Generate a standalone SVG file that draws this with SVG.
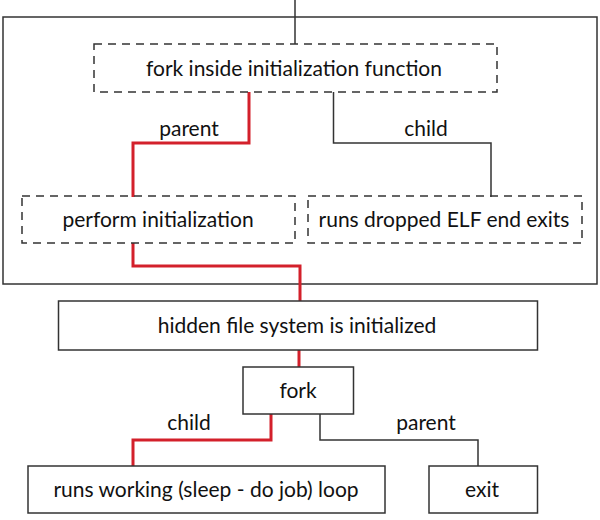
<svg xmlns="http://www.w3.org/2000/svg" width="600" height="520" viewBox="0 0 600 520">
<style>
.t{font-family:Lato,"Open Sans","Liberation Sans",sans-serif;font-size:21px;fill:#111;text-anchor:middle}
.box{fill:#fff;stroke:#333;stroke-width:1.5}
.dash{fill:none;stroke:#333;stroke-width:1.5;stroke-dasharray:8 6}
.red{fill:none;stroke:#d3202b;stroke-width:3}
.blk{fill:none;stroke:#333;stroke-width:1.5}
</style>
<rect width="600" height="520" fill="#fff"/>
<g id="outer"><rect x="3" y="17" width="594" height="267" class="box"/></g>
<g id="connectors">
<line x1="295" y1="0" x2="295" y2="44" class="blk"/>
<polyline points="249,92 249,143 133,143 133,197" class="red"/>
<polyline points="333.5,92 333.5,143 491,143 491,197" class="blk"/>
<polyline points="133,243 133,266 300,266 300,301" class="red"/>
<line x1="299" y1="350" x2="299" y2="367" class="red"/>
<polyline points="271,414 271,440 133,440 133,466" class="red"/>
<polyline points="320,414 320,440 478,440 478,466" class="blk"/>
<text x="189" y="136" class="t">parent</text>
<text x="426" y="136" class="t">child</text>
<text x="189" y="430" class="t">child</text>
<text x="426" y="430" class="t">parent</text>
</g>
<g id="fork-init"><rect x="94" y="44" width="403" height="48" class="dash"/><text x="294" y="76" class="t">fork inside initialization function</text></g>
<g id="perform"><rect x="22" y="196" width="273" height="47" class="dash"/><text x="158" y="227" class="t">perform initialization</text></g>
<g id="dropped"><rect x="308" y="196" width="274" height="47" class="dash"/><text x="444" y="227" class="t">runs dropped ELF end exits</text></g>
<g id="hidden"><rect x="58.5" y="301" width="479" height="49" class="box"/><text x="297" y="333" class="t">hidden file system is initialized</text></g>
<g id="fork"><rect x="243" y="367" width="110.5" height="47" class="box"/><text x="298" y="398" class="t">fork</text></g>
<g id="working"><rect x="28" y="466" width="357" height="47" class="box"/><text x="206" y="497" class="t">runs working (sleep - do job) loop</text></g>
<g id="exit"><rect x="429" y="466" width="108.5" height="47" class="box"/><text x="482" y="497" class="t">exit</text></g>
</svg>
